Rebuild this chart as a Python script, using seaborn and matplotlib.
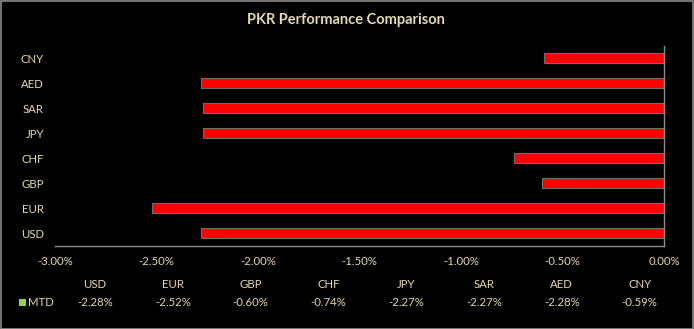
import matplotlib
matplotlib.use("Agg")
import matplotlib.pyplot as plt
import seaborn as sns
import pandas as pd
from matplotlib.patches import Rectangle
from matplotlib.ticker import FuncFormatter

sns.set_theme(style="dark")
plt.rcParams['font.family'] = ['Lato', 'DejaVu Sans']

# Data
categories = ['CNY', 'AED', 'SAR', 'JPY', 'CHF', 'GBP', 'EUR', 'USD']
mtd = [-0.59, -2.28, -2.27, -2.27, -0.74, -0.60, -2.52, -2.28]
table_order = ['USD', 'EUR', 'GBP', 'CHF', 'JPY', 'SAR', 'AED', 'CNY']
x_ticks = [-3.0, -2.5, -2.0, -1.5, -1.0, -0.5, 0.0]
series_name = 'MTD'
title = 'PKR Performance Comparison'

df = pd.DataFrame({'Currency': categories, 'MTD': mtd})

TXT = '#E4D9B0'
FS = 8.2
W, H = 694, 329
fig = plt.figure(figsize=(W / 100, H / 100), dpi=100, facecolor='black')
ax = fig.add_axes([55 / W, 1 - 246 / H, (664 - 55) / W, (246 - 45.5) / H])
ax.set_facecolor('black')

sns.barplot(data=df, x='MTD', y='Currency', order=categories, orient='h',
            color='#FF0000', saturation=1, width=0.4,
            edgecolor='#6e6e6e', linewidth=0.8, ax=ax)

ax.set_xlim(-3.0, 0.0)
ax.set_ylim(7.5, -0.5)
ax.set_xticks(x_ticks)
ax.xaxis.set_major_formatter(FuncFormatter(lambda v, p: f'{v:.2f}%'))
ax.tick_params(axis='x', colors=TXT, labelsize=FS, length=0, pad=7)
ax.tick_params(axis='y', colors=TXT, labelsize=FS, length=0, pad=8)
ax.set_xlabel('')
ax.set_ylabel('')
ax.grid(False)
for s in ['top', 'left']:
    ax.spines[s].set_visible(False)
for s in ['bottom', 'right']:
    ax.spines[s].set_visible(True)
    ax.spines[s].set_color('#8c8c8c')
    ax.spines[s].set_linewidth(1.0)

fig.text(346 / W, 1 - 20 / H, title, color=TXT, fontsize=10.5,
         fontweight='bold', ha='center', va='center')

# Data table
val_map = dict(zip(categories, mtd))
for i, c in enumerate(table_order):
    xc = (95 + 77.8 * i) / W
    fig.text(xc, 1 - 285 / H, c, color=TXT, fontsize=FS, ha='center', va='center')
    fig.text(xc, 1 - 302 / H, f'{val_map[c]:.2f}%', color=TXT, fontsize=FS,
             ha='center', va='center')

fig.patches.append(Rectangle((18.5 / W, 1 - 305.5 / H), 7 / W, 7 / H,
                             transform=fig.transFigure, facecolor='#92D050',
                             edgecolor='none'))
fig.text(28 / W, 1 - 302 / H, series_name, color=TXT, fontsize=FS,
         ha='left', va='center')

fig.patches.append(Rectangle((0.5 / W, 0.5 / H), (W - 1.5) / W, (H - 1.5) / H,
                             transform=fig.transFigure, facecolor='none',
                             edgecolor='#8c8c8c', linewidth=1.2))

fig.savefig('out.png', dpi=100, facecolor='black')
